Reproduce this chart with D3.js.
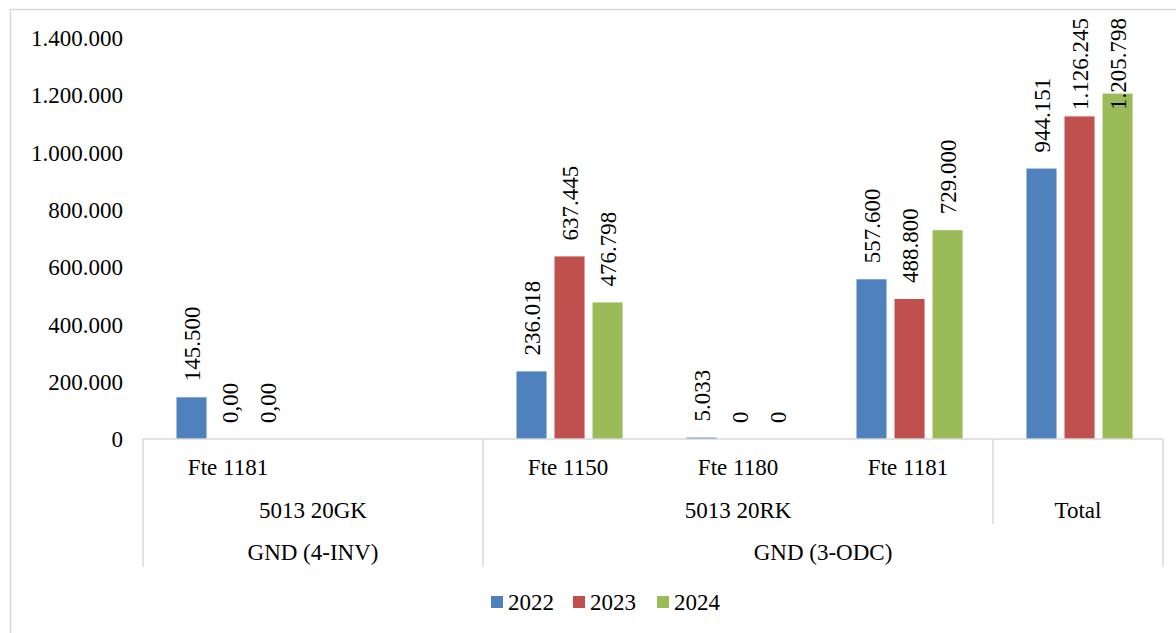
<!DOCTYPE html>
<html>
<head>
<meta charset="utf-8">
<script src="https://cdn.jsdelivr.net/npm/d3@7"></script>
<style>
  html, body { margin: 0; padding: 0; background: #fff; }
  svg { display: block; font-family: "Liberation Serif", "Times New Roman", serif; }
</style>
</head>
<body>
<svg id="chart" width="1176" height="633"></svg>
<script>
// ---- data ----
const categories = ["Fte 1181", "", "Fte 1150", "Fte 1180", "Fte 1181", "Total"];
const level2Labels = ["5013 20GK", "5013 20RK", "Total"];
const level2Start = [0, 2, 5];
const level2Count = [2, 3, 1];
const level3Labels = ["GND (4-INV)", "GND (3-ODC)"];
const level3Start = [0, 2];
const level3Count = [2, 4];
const seriesNames = ["2022", "2023", "2024"];
const values2022 = [145500, null, 236018, 5033, 557600, 944151];
const values2023 = [0, null, 637445, 0, 488800, 1126245];
const values2024 = [0, null, 476798, 0, 729000, 1205798];
const labels2022 = ["145.500", null, "236.018", "5.033", "557.600", "944.151"];
const labels2023 = ["0,00", null, "637.445", "0", "488.800", "1.126.245"];
const labels2024 = ["0,00", null, "476.798", "0", "729.000", "1.205.798"];
const yTicks = [0, 200000, 400000, 600000, 800000, 1000000, 1200000, 1400000];
const colors = ["#4F81BD", "#C0504D", "#9BBB59"];

const seriesValues = [values2022, values2023, values2024];
const seriesLabels = [labels2022, labels2023, labels2024];

// ---- layout ----
const svg = d3.select("#chart");
const FS = 23;
const FF = "'Liberation Serif', 'Times New Roman', serif";
const plotLeft = 143, plotRight = 1163, plotTop = 38, plotBottom = 439;
const gridColor = "#d9d9d9";

const locale = d3.formatLocale({ decimal: ",", thousands: ".", grouping: [3], currency: ["", ""] });
const fmt = locale.format(",d");

// outer chart border (left & top visible)
svg.append("rect").attr("x", 10.5).attr("y", 9.5).attr("width", 1200).attr("height", 700)
  .attr("fill", "none").attr("stroke", gridColor).attr("stroke-width", 1.5);

const idx = d3.range(categories.length);
const x0 = d3.scaleBand().domain(idx).range([plotLeft, plotRight]).paddingInner(0).paddingOuter(0);
const cw = x0.bandwidth();
const x1 = d3.scaleBand().domain(d3.range(seriesNames.length)).range([cw * 0.197, cw * 0.821]).paddingInner(0.21);
const y = d3.scaleLinear().domain([0, 1400000]).range([plotBottom, plotTop]);

// y axis (labels only)
const yAxis = d3.axisLeft(y).tickValues(yTicks).tickFormat(fmt).tickSize(0).tickPadding(0);
const gy = svg.append("g").attr("transform", `translate(123,0)`).call(yAxis)
  .attr("font-family", FF);
gy.select(".domain").remove();
gy.selectAll("text").attr("font-size", FS).attr("fill", "#000")
  .attr("font-family", FF).attr("dy", "0.33em");

// bars
const barData = [];
seriesValues.forEach((vals, s) => {
  vals.forEach((v, i) => {
    if (v !== null) barData.push({ s, i, v, label: seriesLabels[s][i] });
  });
});

svg.append("g").selectAll("rect").data(barData).join("rect")
  .attr("x", d => x0(d.i) + x1(d.s))
  .attr("width", x1.bandwidth())
  .attr("y", d => y(d.v))
  .attr("height", d => Math.max(0, plotBottom - y(d.v)))
  .attr("fill", d => colors[d.s]);

// data labels (rotated)
const lg = svg.append("g").attr("font-family", FF);
barData.forEach(d => {
  const cx = x0(d.i) + x1(d.s) + x1.bandwidth() / 2;
  const t = lg.append("text").attr("font-size", FS).attr("fill", "#000")
    .attr("text-anchor", "start").attr("dy", "0.35em").text(d.label);
  const len = t.node().getComputedTextLength();
  let start = y(d.v) - 16;
  if (start - len < 18) start = 18 + len;
  t.attr("transform", `translate(${cx},${start}) rotate(-90)`);
});

// category axis line & table lines
const lines = svg.append("g").attr("stroke", gridColor).attr("stroke-width", 1.5);
lines.append("line").attr("x1", plotLeft).attr("x2", plotRight).attr("y1", plotBottom).attr("y2", plotBottom);
lines.append("line").attr("x1", plotLeft).attr("x2", plotLeft).attr("y1", plotBottom).attr("y2", 567);
lines.append("line").attr("x1", plotRight).attr("x2", plotRight).attr("y1", plotBottom).attr("y2", 567);
level3Start.slice(1).forEach(s => {
  lines.append("line").attr("x1", x0(s)).attr("x2", x0(s)).attr("y1", plotBottom).attr("y2", 567);
});
level2Start.slice(1).forEach(s => {
  if (!level3Start.includes(s))
    lines.append("line").attr("x1", x0(s)).attr("x2", x0(s)).attr("y1", plotBottom).attr("y2", 524);
});

// category labels
const tg = svg.append("g").attr("font-size", FS).attr("font-family", FF).attr("fill", "#000").attr("text-anchor", "middle");
categories.forEach((c, i) => {
  if (c && c !== "Total")
    tg.append("text").attr("x", x0(i) + cw / 2).attr("y", 475).text(c);
});
level2Labels.forEach((l, k) => {
  const cx = x0(level2Start[k]) + cw * level2Count[k] / 2;
  tg.append("text").attr("x", cx).attr("y", 518).text(l);
});
level3Labels.forEach((l, k) => {
  const cx = x0(level3Start[k]) + cw * level3Count[k] / 2;
  tg.append("text").attr("x", cx).attr("y", 560).text(l);
});

// legend
const legX = [491, 573, 657];
const leg = svg.append("g").attr("font-family", FF);
seriesNames.forEach((n, s) => {
  leg.append("rect").attr("x", legX[s]).attr("y", 596).attr("width", 12).attr("height", 12).attr("fill", colors[s]);
  leg.append("text").attr("x", legX[s] + 17).attr("y", 610).attr("font-size", FS).attr("fill", "#000").text(n);
});
</script>
</body>
</html>
